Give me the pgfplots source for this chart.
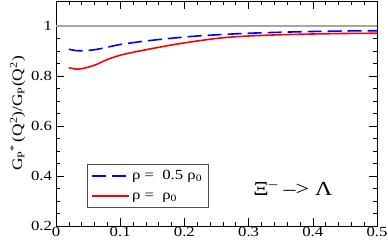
\documentclass[border=0pt]{standalone}
\usepackage{fontspec}
\setmainfont{Liberation Serif}[FakeStretch=1.2]
\usepackage{pgfplots}
\pgfplotsset{compat=1.18}
\begin{document}
\begin{tikzpicture}
\begin{axis}[
  scale only axis,
  width=321bp, height=225bp,
  xmin=0, xmax=0.5, ymin=0.2, ymax=1.1,
  xtick={0,0.1,0.2,0.3,0.4,0.5},
  ytick={0.2,0.4,0.6,0.8,1},
  minor x tick num=4,
  minor y tick num=3,
  tick align=inside,
  major tick length=8bp, minor tick length=4bp,
  tick style={black, line width=0.6pt},
  axis line style={line width=0.8pt},
  xticklabel style={font=\fontsize{14}{16}\selectfont, yshift=2bp},
  yticklabel style={font=\fontsize{14}{16}\selectfont, xshift=-0.5bp},
  /pgf/number format/assume math mode=true,
  xticklabel={\pgfmathprintnumber[fixed,precision=1]{\tick}},
  yticklabel={\pgfmathprintnumber[fixed,precision=1]{\tick}},
  ylabel={G\textsubscript{P}\textsuperscript{*}\,(Q\textsuperscript{2})/G\textsubscript{P}(Q\textsuperscript{2})},
  ylabel style={font=\fontsize{14.5}{16}\selectfont, yshift=-1bp},
  legend style={at={(0.097,0.08)}, anchor=south west, draw=black!70, line width=0.6pt,
    font=\fontsize{14}{16}\selectfont, row sep=3pt, inner xsep=4pt, inner ysep=3pt,
    nodes={text height=10bp, text depth=3bp}},
  legend cell align=left,
  legend image code/.code={\draw[#1] (0bp,0bp) -- (37bp,0bp);},
]
\addplot[gray!70, line width=1.2pt, forget plot] coordinates {(0,1) (0.5,1)};
\addplot[blue, line width=1.6pt, dash pattern=on 14bp off 6bp, smooth] coordinates {
(0.02,0.907) (0.03,0.902) (0.04,0.901) (0.06,0.905) (0.08,0.915) (0.1,0.926)
(0.14,0.940) (0.18,0.951) (0.22,0.960) (0.26,0.966) (0.3,0.971) (0.35,0.975)
(0.4,0.978) (0.45,0.980) (0.5,0.981)};
\addlegendentry{ρ =\ \ 0.5 ρ\textsubscript{0}}
\addplot[red, line width=1.6pt, smooth] coordinates {
(0.02,0.833) (0.03,0.828) (0.04,0.829) (0.06,0.843) (0.08,0.866) (0.1,0.883)
(0.13,0.900) (0.18,0.924) (0.22,0.940) (0.26,0.953) (0.3,0.960) (0.35,0.965)
(0.4,0.968) (0.45,0.970) (0.5,0.971)};
\addlegendentry{ρ =\ \ ρ\textsubscript{0}}
\node[font=\fontsize{20}{22}\selectfont] at (axis cs:0.369,0.348) {Ξ\textsuperscript{–} –> Λ};
\end{axis}
\pgfresetboundingbox
\path (current axis.south west) ++(-56bp,-17bp) coordinate (bl);
\path (current axis.north east) ++(11bp,1bp) coordinate (tr);
\path (bl) rectangle (tr);
\end{tikzpicture}
\end{document}
